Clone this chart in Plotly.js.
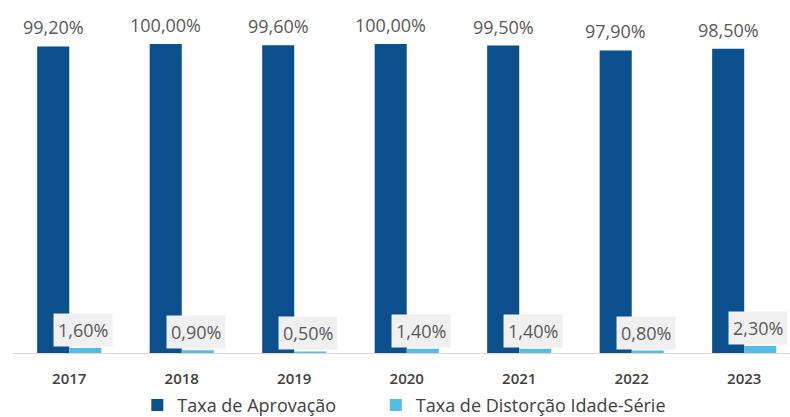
<!DOCTYPE html>
<html>
<head>
<meta charset="utf-8">
<script src="https://cdn.plot.ly/plotly-3.0.1.min.js"></script>
<style>html,body{margin:0;padding:0;background:#fff;}#chart{width:790px;height:417px;}</style>
</head>
<body>
<div id="chart"></div>
<script>
var years = ["2017","2018","2019","2020","2021","2022","2023"];
var aprovacao = [99.2, 100.0, 99.6, 100.0, 99.5, 97.9, 98.5];
var distorcao = [1.6, 0.9, 0.5, 1.4, 1.4, 0.8, 2.3];
var seriesNames = ["Taxa de Aprovação", "Taxa de Distorção Idade-Série"];

function fmt(v){ return v.toFixed(2).replace(".", ",") + "%"; }

var FONT = "Open Sans, Noto Sans, sans-serif";
var traces = [
  {type:"bar", name:seriesNames[0], x:years, y:aprovacao, marker:{color:"#0B4F8C"}, hoverinfo:"none", legend:"legend"},
  {type:"bar", name:seriesNames[1], x:years, y:distorcao, marker:{color:"#52BEE8"}, hoverinfo:"none", legend:"legend2"}
];

var bargap = 0.43;
var off = (1 - bargap) / 4;
var annotations = [];
years.forEach(function(yr, i){
  annotations.push({x:i - off, y:aprovacao[i], xref:"x", yref:"y", text:fmt(aprovacao[i]),
    showarrow:false, yanchor:"bottom", yshift:5,
    font:{family:FONT, size:18, color:"#595959"}});
  annotations.push({x:i + off, y:distorcao[i], xref:"x", yref:"y", text:fmt(distorcao[i]),
    showarrow:false, yanchor:"middle", xshift:-2, yshift:18, bgcolor:"#F0F0F0", borderpad:4,
    font:{family:FONT, size:18, color:"#595959"}});
});

var legendFont = {family:FONT, size:18, color:"#404040"};
var layout = {
  width:790, height:417,
  margin:{l:13, r:0, t:10, b:64},
  paper_bgcolor:"#ffffff", plot_bgcolor:"#ffffff",
  barmode:"group", bargap:bargap, bargroupgap:0,
  font:{family:FONT, color:"#404040"},
  xaxis:{type:"category", range:[-0.5, 6.407], showline:true, linecolor:"#D9D9D9", linewidth:1,
    ticks:"", showgrid:false, zeroline:false, ticklabelstandoff:12,
    tickfont:{family:FONT, size:15, color:"#404040", weight:600}},
  yaxis:{range:[0,111], visible:false, showgrid:false, zeroline:false},
  showlegend:true,
  legend:{orientation:"h", x:0.16, xanchor:"left", yref:"container", y:0.028, yanchor:"middle",
    font:legendFont, itemwidth:30, bgcolor:"rgba(0,0,0,0)"},
  legend2:{orientation:"h", x:0.467, xanchor:"left", yref:"container", y:0.028, yanchor:"middle",
    font:legendFont, itemwidth:30, bgcolor:"rgba(0,0,0,0)"},
  annotations:annotations
};

Plotly.newPlot("chart", traces, layout, {staticPlot:true, displayModeBar:false});
</script>
</body>
</html>
